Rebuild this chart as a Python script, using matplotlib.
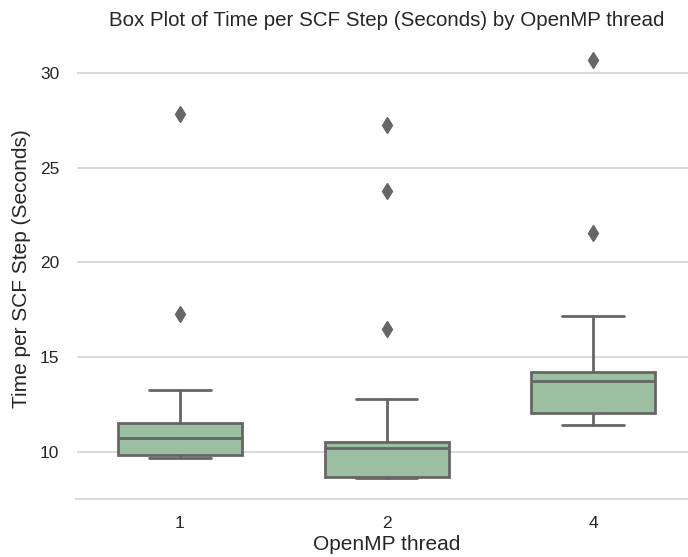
import matplotlib
matplotlib.use("Agg")
import matplotlib.pyplot as plt
import seaborn as sns

# values
threads = ["1", "2", "4"]
whisker_low = [9.67, 8.60, 11.41]
q1 = [9.82, 8.68, 12.04]
median = [10.73, 10.21, 13.72]
q3 = [11.53, 10.49, 14.19]
whisker_high = [13.24, 12.80, 17.15]
outliers = [
    [17.29, 27.83],
    [16.50, 23.79, 27.28],
    [21.58, 30.71],
]

sns.set_style("whitegrid")
plt.rcParams['font.family'] = ['Liberation Sans', 'DejaVu Sans']

fig = plt.figure(figsize=(6.88, 5.57), dpi=100)
ax = fig.add_axes([76.5 / 688, 58 / 557, 620 / 688, 460 / 557])

stats = []
for i, t in enumerate(threads):
    stats.append({
        "label": t,
        "whislo": whisker_low[i],
        "q1": q1[i],
        "med": median[i],
        "q3": q3[i],
        "whishi": whisker_high[i],
        "fliers": outliers[i],
    })

line_col = "#666666"
ax.bxp(stats, positions=range(len(threads)), widths=0.6, patch_artist=True,
       boxprops=dict(facecolor="#9cbfa2", edgecolor=line_col, linewidth=2),
       medianprops=dict(color=line_col, linewidth=2),
       whiskerprops=dict(color=line_col, linewidth=2),
       capprops=dict(color=line_col, linewidth=2),
       flierprops=dict(marker="d", markerfacecolor=line_col, markeredgecolor=line_col,
                       markersize=8.5, linestyle="none"))

ax.set_xlim(-0.5, 2.5)
ax.set_ylim(7.49, 31.82)
ax.set_yticks([10, 15, 20, 25, 30])
ax.tick_params(axis="both", labelsize=12.5, colors="#262626", pad=9)
ax.grid(axis="x", visible=False)
ax.grid(axis="y", color="#dadada", linewidth=1.5)
ax.spines["bottom"].set_color("#dadada")
ax.spines["bottom"].set_linewidth(1.5)
ax.set_xlabel("OpenMP thread", fontsize=15, color="#262626", labelpad=2.5)
ax.set_ylabel("Time per SCF Step (Seconds)", fontsize=15, color="#262626", labelpad=6)
ax.set_title("Box Plot of Time per SCF Step (Seconds) by OpenMP thread", fontsize=14.8,
             color="#262626", pad=9.5)
sns.despine(ax=ax, left=True)

fig.savefig("out.png", dpi=100)
